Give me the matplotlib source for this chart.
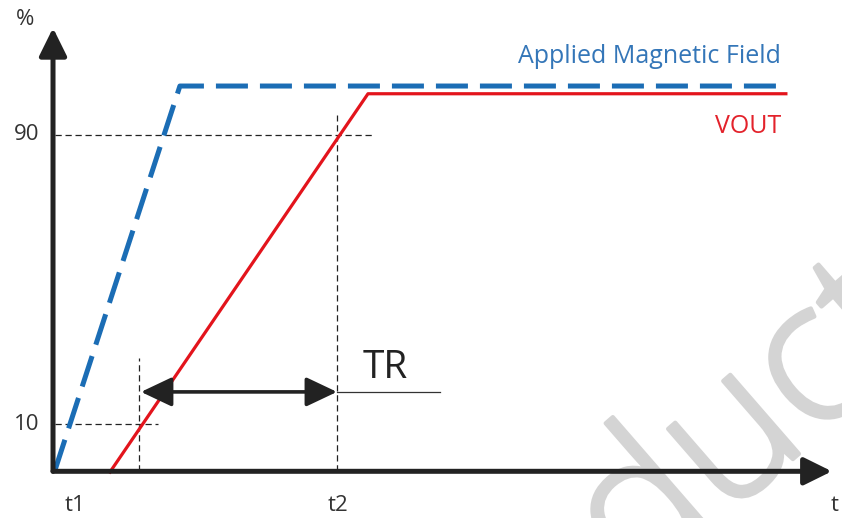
import matplotlib.pyplot as plt
import matplotlib.patheffects as pe

# Time axis in arbitrary units (t1 = 0, t2 = 100), output in %
field_t = [0, 44.3, 259.2]
field_pct = [-1.2, 103.3, 103.3]
vout_t = [19.5, 111.0, 259.2]
vout_pct = [-1.7, 101.2, 101.2]

t10, t90 = 29.8, 100.0
level_ticks = [11.3, 90.0]
level_labels = ['10', '90']
time_labels = ['t1', 't2']

base = -1.5
x_tip, y_tip = 275.5, 119.1

plt.rcParams['font.family'] = ['Open Sans', 'DejaVu Sans']
fig = plt.figure(figsize=(8.42, 5.18), dpi=100)
ax = fig.add_axes([0, 0, 1, 1])
ax.set_xlim(-19.5, 279.1)
ax.set_ylim(-14.2, 126.7)
ax.axis('off')

# watermark (cut by the frame, as in the source)
wm_col = '#d4d4d4'
ax.text(311.3, 34.9, 'product', rotation=41, rotation_mode='anchor', ha='right', va='baseline',
        fontsize=142, fontweight='light', color=wm_col, zorder=0,
        path_effects=[pe.withStroke(linewidth=3, foreground=wm_col)])

axis_col = '#222222'
head = '-|>,head_length=0.85,head_width=0.42'
ax.annotate('', xy=(x_tip, base), xytext=(-0.7, base),
            arrowprops=dict(arrowstyle=head, lw=3.6, color=axis_col, mutation_scale=20,
                            shrinkA=0, shrinkB=0), zorder=5)
ax.annotate('', xy=(-0.7, y_tip), xytext=(-0.7, base),
            arrowprops=dict(arrowstyle=head, lw=3.6, color=axis_col, mutation_scale=20,
                            shrinkA=0, shrinkB=0), zorder=5)

# guide lines
guide = dict(color='#222222', lw=0.9, ls=(0, (5, 3)), zorder=2)
ax.plot([0, 113.5], [level_ticks[1]] * 2, **guide)
ax.plot([0, 36.5], [level_ticks[0]] * 2, **guide)
ax.plot([t10, t10], [base, 29.3], **guide)
ax.plot([t90, t90], [base, 95.4], **guide)

# signals
ax.plot(field_t, field_pct, color='#1b6db5', lw=3.6, ls=(0, (6.4, 2.4)),
        dash_capstyle='butt', zorder=3)
ax.plot(vout_t, vout_pct, color='#e3141c', lw=2.3, zorder=4)

# TR marker
ax.annotate('', xy=(t90, 20.1), xytext=(t10 + 0.7, 20.1),
            arrowprops=dict(arrowstyle='<|-|>,head_length=0.95,head_width=0.45', lw=2.6,
                            color=axis_col, mutation_scale=20, shrinkA=0, shrinkB=0), zorder=6)
ax.plot([t90, 136.5], [20.1, 20.1], color='#333333', lw=0.9, zorder=2)
ax.text(117, 21.5, 'TR', fontsize=28, color='#222222', ha='center', va='bottom')

# labels
lab = dict(fontsize=16, color='#333333')
ax.text(-10.6, 121.3, '%', ha='center', va='center', **lab)
for lv, tx in zip(level_ticks, level_labels):
    ax.text(-10.2, lv, tx, ha='center', va='center', **lab)
ax.text(7, -10.7, time_labels[0], ha='center', va='center', **lab)
ax.text(t90 + 0.5, -10.7, time_labels[1], ha='center', va='center', **lab)
ax.text(276.6, -10.7, 't', ha='center', va='center', **lab)

ax.text(257.4, 111.2, 'Applied Magnetic Field', fontsize=18, color='#3476b8',
        ha='right', va='center')
ax.text(257.4, 92.4, 'VOUT', fontsize=18, color='#e3222b', ha='right', va='center')

fig.savefig('out.png', dpi=100)
